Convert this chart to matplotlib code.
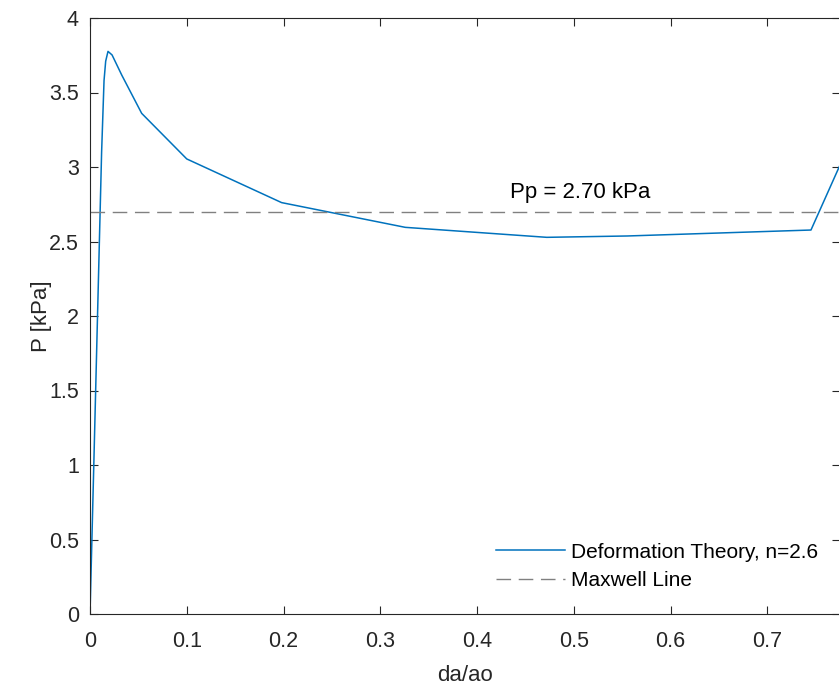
import matplotlib
matplotlib.use("Agg")
import matplotlib.pyplot as plt

# values
da_ao = [0.0, 0.004, 0.008, 0.012, 0.0145, 0.0162, 0.0186, 0.0228, 0.0328,
         0.0534, 0.100, 0.198, 0.3258, 0.472, 0.555, 0.745, 0.7748]
pressure = [0.0, 1.02, 2.06, 3.10, 3.58, 3.71, 3.776, 3.752, 3.617,
            3.36, 3.054, 2.761, 2.595, 2.528, 2.537, 2.577, 3.01]
maxwell_p = 2.70
x_limits = (0.0, 0.775)
y_limits = (0.0, 4.0)
x_ticks = [0, 0.1, 0.2, 0.3, 0.4, 0.5, 0.6, 0.7]
x_tick_labels = ["0", "0.1", "0.2", "0.3", "0.4", "0.5", "0.6", "0.7"]
y_ticks = [0, 0.5, 1, 1.5, 2, 2.5, 3, 3.5, 4]
y_tick_labels = ["0", "0.5", "1", "1.5", "2", "2.5", "3", "3.5", "4"]

plt.rcParams["font.family"] = ["Liberation Sans", "DejaVu Sans"]
axis_colour = "#262626"

fig = plt.figure(figsize=(8.39, 6.86), dpi=100)
ax = fig.add_axes([90 / 839, 72 / 686, 750 / 839, 596 / 686])

ax.plot(da_ao, pressure, color="#0072BD", linewidth=1.1,
        label="Deformation Theory, n=2.6")
ax.axhline(maxwell_p, color="#808080", linewidth=1.0, dashes=(10.5, 5.5),
           label="Maxwell Line")
ax.text(0.507, 2.83, f"Pp = {maxwell_p:.2f} kPa", ha="center", va="center",
        fontsize=16, color="black")

ax.set_xlim(*x_limits)
ax.set_ylim(*y_limits)
ax.set_xticks(x_ticks)
ax.set_xticklabels(x_tick_labels)
ax.set_yticks(y_ticks)
ax.set_yticklabels(y_tick_labels)
ax.tick_params(direction="in", length=6, width=0.8, top=True, right=True,
               labelsize=15.5, colors=axis_colour)
ax.tick_params(axis="x", pad=12)
ax.tick_params(axis="y", pad=8)
for spine in ax.spines.values():
    spine.set_color(axis_colour)
    spine.set_linewidth(0.8)

ax.set_xlabel("da/ao", fontsize=16, color=axis_colour)
ax.set_ylabel("P [kPa]", fontsize=16, color=axis_colour)
ax.xaxis.set_label_coords(0.5, -0.085)
ax.yaxis.set_label_coords(-0.050, 0.5)

ax.legend(loc="upper left", bbox_to_anchor=(0.516, 0.151), frameon=False,
          fontsize=15, handlelength=3.3, handletextpad=0.3, labelspacing=0.45)

fig.savefig("out.png", dpi=100)
